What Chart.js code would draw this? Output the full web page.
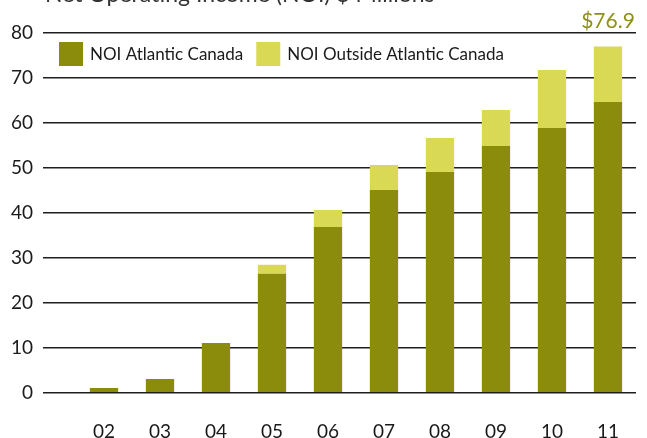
<!DOCTYPE html>
<html>
<head>
<meta charset="utf-8">
<title>Net Operating Income</title>
<script src="https://cdn.jsdelivr.net/npm/chart.js@4/dist/chart.umd.min.js"></script>
<style>
  html, body { margin: 0; padding: 0; background: #ffffff; }
  #wrap { width: 647px; height: 438px; }
</style>
</head>
<body>
<div id="wrap"><canvas id="noi" width="647" height="438"></canvas></div>
<script>
// Fiscal years (two-digit) and NOI in $ millions
const years = ['02', '03', '04', '05', '06', '07', '08', '09', '10', '11'];
const noiAtlantic = [1.0, 3.0, 11.0, 26.4, 36.8, 45.0, 49.0, 54.8, 58.8, 64.6];
const noiOutside = [0, 0, 0, 2.0, 3.8, 5.6, 7.6, 8.0, 12.9, 12.3];
const seriesNames = ['NOI Atlantic Canada', 'NOI Outside Atlantic Canada'];
const yTicks = [0, 10, 20, 30, 40, 50, 60, 70, 80];
const chartTitle = 'Net Operating Income (NOI) $ Millions';

const DARK = '#8b8c0b';
const LIGHT = '#dad955';
const FONT = 'Lato, "Open Sans", sans-serif';

// Title, legend and year-end total label
const decorations = {
  id: 'decorations',
  afterDraw(chart) {
    const ctx = chart.ctx;
    ctx.save();

    // title, sitting at the very top edge
    ctx.fillStyle = '#333333';
    ctx.font = '23px ' + FONT;
    ctx.textAlign = 'left';
    ctx.textBaseline = 'alphabetic';
    ctx.fillText(chartTitle, 45, 2);

    // legend inside the plot, top left
    ctx.font = '17px ' + FONT;
    ctx.textBaseline = 'middle';
    let x = 59;
    const y = 42, box = 24;
    chart.data.datasets.forEach(ds => {
      ctx.fillStyle = ds.backgroundColor;
      ctx.fillRect(x, y, box, box);
      ctx.fillStyle = '#1a1a1a';
      ctx.fillText(ds.label, x + box + 7, y + box / 2 + 1);
      x += box + 7 + ctx.measureText(ds.label).width + 13;
    });

    // total above the last bar
    const last = years.length - 1;
    const total = noiAtlantic[last] + noiOutside[last];
    const bar = chart.getDatasetMeta(1).data[last];
    ctx.fillStyle = '#8e8f1c';
    ctx.font = '21px ' + FONT;
    ctx.textAlign = 'center';
    ctx.textBaseline = 'alphabetic';
    ctx.fillText('$' + total.toFixed(1), bar.x, bar.y - 19);

    ctx.restore();
  }
};

new Chart(document.getElementById('noi'), {
  type: 'bar',
  data: {
    labels: years,
    datasets: [
      { label: seriesNames[0], data: noiAtlantic, backgroundColor: DARK },
      { label: seriesNames[1], data: noiOutside, backgroundColor: LIGHT }
    ]
  },
  options: {
    responsive: false,
    animation: false,
    devicePixelRatio: 1,
    layout: { padding: { top: 32.6, right: -3, left: 0, bottom: 0 } },
    datasets: { bar: { categoryPercentage: 1, barPercentage: 0.505 } },
    plugins: {
      legend: { display: false },
      title: { display: false },
      tooltip: { enabled: false }
    },
    scales: {
      x: {
        stacked: true,
        grid: { display: false, drawTicks: false },
        border: { display: false },
        ticks: { color: '#1a1a1a', font: { family: FONT, size: 19 }, padding: 28 },
        afterFit(scale) { scale.height = 45.4; }
      },
      y: {
        stacked: true,
        min: 0,
        max: 80,
        afterBuildTicks(scale) { scale.ticks = yTicks.map(v => ({ value: v })); },
        grid: { color: '#1e1e1e', lineWidth: 1.4, tickLength: 33 },
        border: { display: false },
        ticks: { color: '#1a1a1a', font: { family: FONT, size: 19 }, padding: 10 },
        afterFit(scale) { scale.width = 76; }
      }
    }
  },
  plugins: [decorations]
});
</script>
</body>
</html>
